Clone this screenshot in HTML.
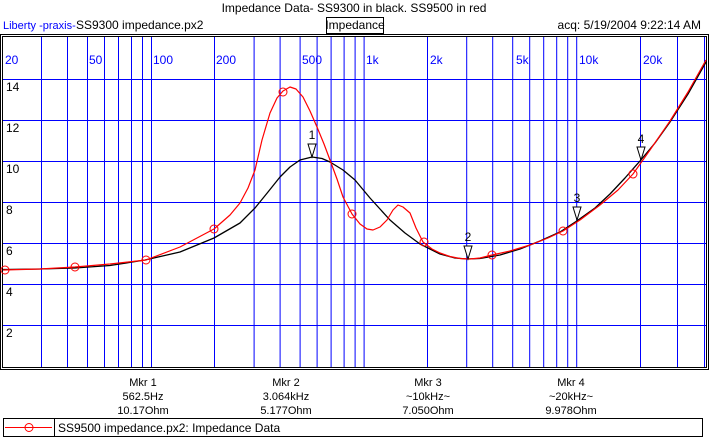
<!DOCTYPE html>
<html><head><meta charset="utf-8"><style>
body{margin:0;background:#fff;}
svg{display:block;font-family:"Liberation Sans",sans-serif;}
</style></head><body>
<svg width="709" height="441" viewBox="0 0 709 441" xmlns="http://www.w3.org/2000/svg">
<rect width="709" height="441" fill="#fff"/>
<text x="354" y="12" font-size="12" text-anchor="middle">Impedance Data- SS9300 in black. SS9500 in red</text>
<text x="3" y="29" font-size="11" fill="#0000ff">Liberty -praxis-</text>
<text x="76" y="29" font-size="12">SS9300 impedance.px2</text>
<rect x="326.5" y="17.5" width="57" height="16" fill="none" stroke="#000"/>
<text x="355" y="29" font-size="12" text-anchor="middle">Impedance</text>
<text x="701" y="29" font-size="12" text-anchor="end">acq: 5/19/2004 9:22:14 AM</text>
<rect x="0.5" y="34.5" width="708" height="335" fill="none" stroke="#000"/>
<rect x="2.5" y="36.5" width="704" height="331" fill="none" stroke="#000"/>
<g stroke="#0000ff" stroke-width="1">
<line x1="3" y1="79.5" x2="706" y2="79.5"/>
<line x1="3" y1="120.5" x2="706" y2="120.5"/>
<line x1="3" y1="161.5" x2="706" y2="161.5"/>
<line x1="3" y1="202.5" x2="706" y2="202.5"/>
<line x1="3" y1="243.5" x2="706" y2="243.5"/>
<line x1="3" y1="284.5" x2="706" y2="284.5"/>
<line x1="3" y1="325.5" x2="706" y2="325.5"/>
<g id="v">
<line x1="41.5" y1="37" x2="41.5" y2="367"/><line x1="67.5" y1="37" x2="67.5" y2="367"/>
<line x1="87.5" y1="37" x2="87.5" y2="367"/><line x1="104.5" y1="37" x2="104.5" y2="367"/>
<line x1="118.5" y1="37" x2="118.5" y2="367"/><line x1="131.5" y1="37" x2="131.5" y2="367"/>
<line x1="142.5" y1="37" x2="142.5" y2="367"/><line x1="151.5" y1="37" x2="151.5" y2="367"/>
</g>
<use href="#v" x="212.6"/><use href="#v" x="425.2"/>
<line x1="214.5" y1="37" x2="214.5" y2="367"/><line x1="427.5" y1="37" x2="427.5" y2="367"/>
<line x1="640.5" y1="37" x2="640.5" y2="367"/><line x1="677.5" y1="37" x2="677.5" y2="367"/>
<line x1="704.5" y1="37" x2="704.5" y2="367"/>
</g>
<g font-size="12" fill="#0000ff">
<text x="5" y="64">20</text><text x="89" y="64">50</text><text x="153" y="64">100</text>
<text x="216" y="64">200</text><text x="302" y="64">500</text><text x="366" y="64">1k</text>
<text x="430" y="64">2k</text><text x="516" y="64">5k</text><text x="579" y="64">10k</text><text x="643" y="64">20k</text>
</g>
<g font-size="12">
<text x="6" y="91">14</text><text x="6" y="132">12</text><text x="6" y="173">10</text>
<text x="6" y="214">8</text><text x="6" y="255">6</text><text x="6" y="296">4</text><text x="6" y="337">2</text>
</g>
<polyline points="3,269.5 40,269 75,268 110,265.5 145,260 180,252 214,238 240,223 255,208 268,192 280,177 290,167 300,160 312,157 322,158.5 330,162 343,170 355,180 370,198 380,209 390,220 405,233 420,244 440,254 455,258 467,259 480,258.5 500,255 520,249 540,241 560,232 576,221.5 595,208 610,194 625,178 640,161 655,143 670,122 688,94 706,62" fill="none" stroke="#000" stroke-width="1.3" stroke-linejoin="round"/>
<polyline points="3,270 40,269 75,267 110,264 146,260 180,247 214,229 230,215 240,203 248,188 255,170 262,140 270,113 277,98 283,91 290,87 296,89 303,97 310,111 317,127 324,144 330,160 337,179 343,197 352,214 360,224 367,229 373,230 380,227 387,220 393,210 398,205 403,207 410,213 416,228 423,242 432,249 440,253 450,256.5 460,258.5 470,259 480,258 492,255 510,251 530,245 548,238 563,231 580,220 600,205 618,190 633,174 650,150 670,121 688,92 706,60" fill="none" stroke="#ff0000" stroke-width="1.2" stroke-linejoin="round"/>
<g fill="none" stroke="#ff0000" stroke-width="1">
<circle cx="5" cy="270" r="4"/><circle cx="75" cy="267" r="4"/><circle cx="146" cy="260" r="4"/>
<circle cx="214" cy="229" r="4"/><circle cx="283" cy="92" r="4"/><circle cx="352" cy="214" r="4"/>
<circle cx="424" cy="242" r="4"/><circle cx="492" cy="255" r="4"/><circle cx="563" cy="231" r="4"/>
<circle cx="633" cy="174" r="4"/>
</g>
<g fill="#fff" stroke="#000" stroke-width="1">
<path d="M308,144 L316,144 L312,157 Z"/><path d="M464,246 L472,246 L468,259 Z"/>
<path d="M573,207 L581,207 L577,220 Z"/><path d="M637,147 L645,147 L641,160 Z"/>
</g>
<g font-size="12" text-anchor="middle">
<text x="312" y="139">1</text><text x="468" y="241">2</text><text x="577" y="202">3</text><text x="641" y="143">4</text>
</g>
<g font-size="11" text-anchor="middle">
<text x="143" y="386">Mkr 1</text><text x="143" y="400">562.5Hz</text><text x="143" y="414">10.17Ohm</text>
<text x="286" y="386">Mkr 2</text><text x="286" y="400">3.064kHz</text><text x="286" y="414">5.177Ohm</text>
<text x="428" y="386">Mkr 3</text><text x="428" y="400">~10kHz~</text><text x="428" y="414">7.050Ohm</text>
<text x="571" y="386">Mkr 4</text><text x="571" y="400">~20kHz~</text><text x="571" y="414">9.978Ohm</text>
</g>
<rect x="3.5" y="418.5" width="699" height="18" fill="none" stroke="#000"/>
<line x1="54.5" y1="418" x2="54.5" y2="437" stroke="#000"/>
<line x1="5" y1="427.5" x2="52" y2="427.5" stroke="#ff0000"/>
<circle cx="29" cy="427.5" r="4" fill="none" stroke="#ff0000"/>
<text x="58" y="432" font-size="12">SS9500 impedance.px2:  Impedance Data</text>
</svg>
</body></html>
